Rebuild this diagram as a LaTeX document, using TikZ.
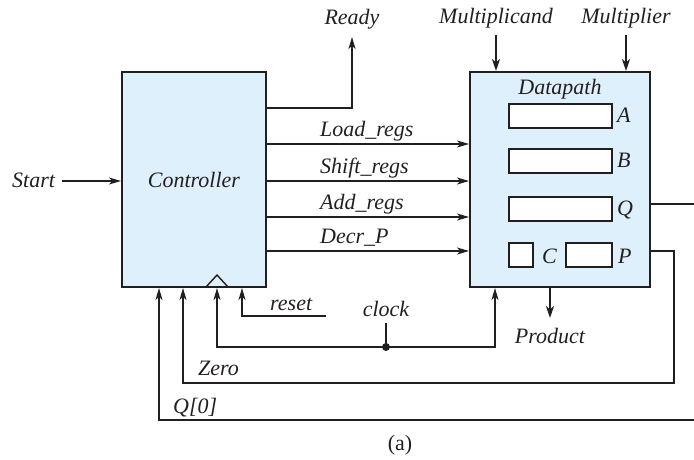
\documentclass[tikz,border=0pt]{standalone}
\usepackage{fontspec}
\setmainfont{Liberation Serif}
\usetikzlibrary{arrows.meta,calc}
\definecolor{boxblue}{RGB}{222,240,251}
\definecolor{ink}{RGB}{35,31,32}
\begin{document}
\begin{tikzpicture}[x=1pt,y=-1pt,
 tx/.style={font=\fontsize{22}{26}\selectfont\itshape, inner sep=0pt, text=ink},
 blk/.style={draw=ink, line width=2pt, fill=boxblue, inner sep=0pt},
 reg/.style={draw=ink, line width=1.7pt, fill=white, inner sep=0pt},
 sig/.style={draw=ink, line width=1.4pt},
 arr/.style={sig, -{Stealth[length=12pt,width=7pt,inset=3.5pt]}},
 busarr/.style={draw=ink, line width=2.2pt, -{Stealth[length=12pt,width=8pt,inset=3.5pt]}},
]
\useasboundingbox (0,0) rectangle (694,460);
% blocks
\node[blk, minimum width=144pt, minimum height=215pt] (ctrl) at (194,179.5) {};
\node[tx, anchor=base] (ctrltxt) at (194,187) {Controller};
\node[blk, minimum width=180pt, minimum height=215pt] (dp) at (560,179.5) {};
\node[tx, anchor=base] (dptxt) at (560,95) {Datapath};
% registers
\node[reg, minimum width=103pt, minimum height=24pt] (ra) at (560.5,116) {};
\node[reg, minimum width=103pt, minimum height=24pt] (rb) at (560.5,161) {};
\node[reg, minimum width=103pt, minimum height=24pt] (rq) at (560.5,209) {};
\node[reg, minimum width=24pt, minimum height=24pt] (rc) at (521,255) {};
\node[reg, minimum width=46pt, minimum height=24pt] (rp) at (589,255) {};
\node[tx, anchor=base west] (la) at (617,122) {A};
\node[tx, anchor=base west] (lb) at (617,167) {B};
\node[tx, anchor=base west] (lq) at (617,215) {Q};
\node[tx, anchor=base west] (lc) at (542,263) {C};
\node[tx, anchor=base west] (lp) at (618,263) {P};
% control signals
\coordinate (yReady) at (0,108);
\coordinate (yLoad) at (0,144);
\coordinate (yShift) at (0,181);
\coordinate (yAdd) at (0,217);
\coordinate (yDecr) at (0,251);
\node[tx, anchor=base west] (lload) at (320,136) {Load\_regs};
\node[tx, anchor=base west] (lshift) at (320,173) {Shift\_regs};
\node[tx, anchor=base west] (ladd) at (320,209) {Add\_regs};
\node[tx, anchor=base west] (ldecr) at (320,243) {Decr\_P};
\draw[arr] (ctrl.east |- yLoad) -- (dp.west |- yLoad);
\draw[arr] (ctrl.east |- yShift) -- (dp.west |- yShift);
\draw[arr] (ctrl.east |- yAdd) -- (dp.west |- yAdd);
\draw[arr] (ctrl.east |- yDecr) -- (dp.west |- yDecr);
% Ready
\node[tx, anchor=base] (ready) at (352,25) {Ready};
\coordinate (readyTip) at (352,37);
\draw[arr] (ctrl.east |- yReady) -| (readyTip);
% Start
\node[tx, anchor=base west] (start) at (12,187) {Start};
\coordinate (startTail) at (62,181);
\draw[arr] (startTail) -- (ctrl.west |- startTail);
% data inputs
\node[tx, anchor=base] (mcand) at (496,24) {Multiplicand};
\node[tx, anchor=base] (mplier) at (626,24) {Multiplier};
\coordinate (mcandTail) at (496,35);
\coordinate (mplierTail) at (626,35);
\draw[busarr] (mcandTail) -- (dp.north -| mcandTail);
\draw[busarr] (mplierTail) -- (dp.north -| mplierTail);
% product
\node[tx, anchor=base] (prod) at (550,343) {Product};
\coordinate (prodTip) at (550,318);
\draw[busarr] (dp.south -| prodTip) -- (prodTip);
% clock
\draw[sig, line width=1.4pt] (206,287) -- (217,275) -- (228,287);
\node[tx, anchor=base] (clk) at (386,316) {clock};
\coordinate (clkdot) at (386,347);
\coordinate (clkStem) at (386,323);
\draw[sig] (clkdot) -- (clkStem);
\draw[arr] (clkdot) -| (ctrl.south -| 217,0);
\draw[arr] (clkdot) -| (dp.south -| 495,0);
\fill[ink] (clkdot) circle (4pt);
% reset
\node[tx, anchor=base west] (rst) at (270,310) {reset};
\coordinate (rstTail) at (326,316);
\draw[arr] (rstTail) -| (ctrl.south -| 242,0);
% Zero
\node[tx, anchor=base west] (zero) at (198,375) {Zero};
\coordinate (zeroCorner) at (674,383);
\draw[arr] (dp.east |- yDecr) -| (zeroCorner) -| (ctrl.south -| 183,0);
% Q[0]
\node[tx, anchor=base west] (q0) at (173,413) {Q[0]};
\coordinate (q0Corner) at (702,420);
\coordinate (yQ) at (0,204);
\draw[arr] (dp.east |- yQ) -| (q0Corner) -| (ctrl.south -| 159,0);
% caption
\node[font=\fontsize{22}{26}\selectfont, inner sep=0pt, anchor=base, text=ink] (cap) at (400,450) {(a)};
\end{tikzpicture}
\end{document}
